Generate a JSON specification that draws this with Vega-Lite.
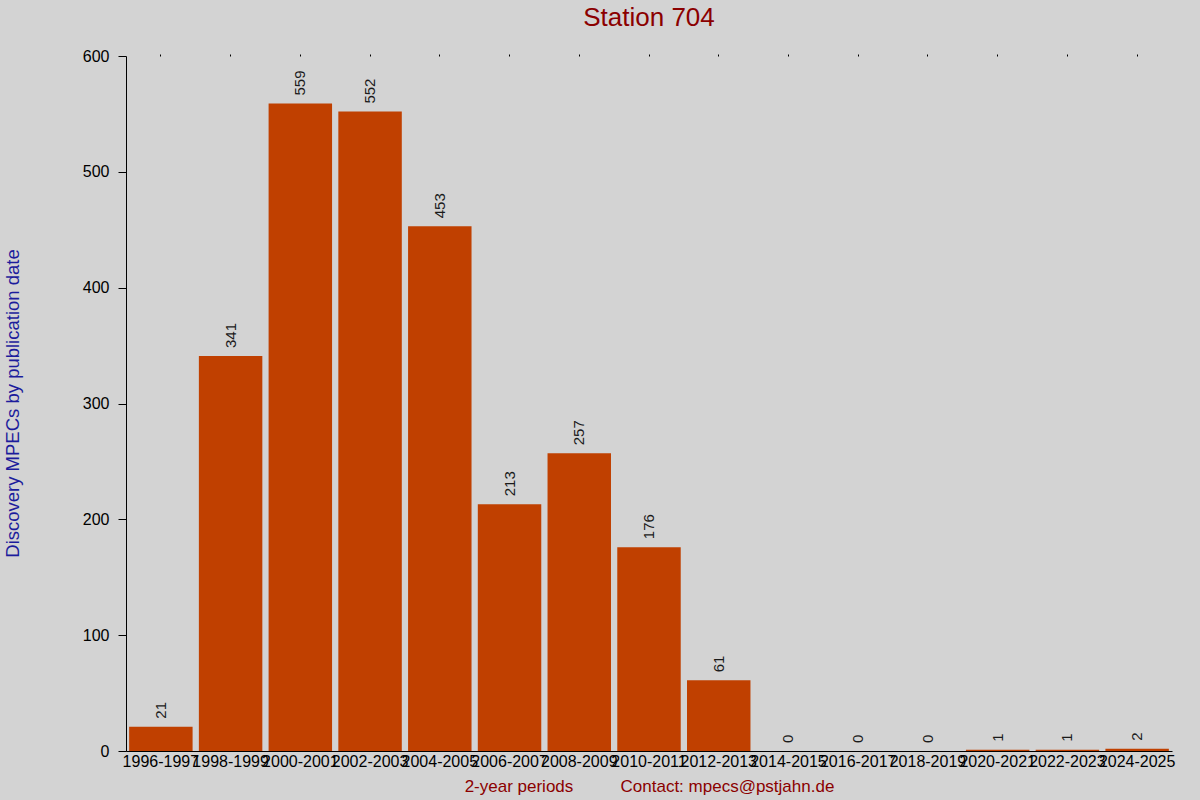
{
  "$schema": "https://vega.github.io/schema/vega-lite/v6.json",
  "autosize": "none",
  "width": 1046,
  "height": 695,
  "padding": {"left": 126, "top": 56, "right": 28, "bottom": 49},
  "background": "#d3d3d3",
  "title": {
    "text": "Station 704",
    "fontSize": 26,
    "fontWeight": "normal",
    "font": "Liberation Sans",
    "color": "#8b0000",
    "anchor": "middle",
    "baseline": "alphabetic",
    "offset": -4
  },
  "config": {
    "view": {"stroke": null},
    "font": "Liberation Sans",
    "axis": {
      "labelFont": "Liberation Sans",
      "titleFont": "Liberation Sans",
      "labelColor": "#000000",
      "domainColor": "#000000",
      "tickColor": "#000000",
      "grid": false
    }
  },
  "data": {
    "values": [
      {"period": "1996-1997", "count": 21},
      {"period": "1998-1999", "count": 341},
      {"period": "2000-2001", "count": 559},
      {"period": "2002-2003", "count": 552},
      {"period": "2004-2005", "count": 453},
      {"period": "2006-2007", "count": 213},
      {"period": "2008-2009", "count": 257},
      {"period": "2010-2011", "count": 176},
      {"period": "2012-2013", "count": 61},
      {"period": "2014-2015", "count": 0},
      {"period": "2016-2017", "count": 0},
      {"period": "2018-2019", "count": 0},
      {"period": "2020-2021", "count": 1},
      {"period": "2022-2023", "count": 1},
      {"period": "2024-2025", "count": 2}
    ]
  },
  "encoding": {
    "x": {
      "field": "period",
      "type": "nominal",
      "sort": null,
      "scale": {"paddingInner": 0.09, "paddingOuter": 0.045}
    },
    "y": {
      "field": "count",
      "type": "quantitative",
      "scale": {"domain": [0, 600], "nice": false}
    }
  },
  "layer": [
    {
      "mark": {"type": "bar", "color": "#c04000"},
      "encoding": {
        "x": {
          "field": "period",
          "type": "nominal",
          "sort": null,
          "axis": {
            "orient": "bottom",
            "title": "2-year periods\u00a0\u00a0\u00a0\u00a0\u00a0\u00a0\u00a0\u00a0\u00a0\u00a0Contact: mpecs@pstjahn.de",
            "titleFontSize": 17,
            "titleFontWeight": "normal",
            "titleColor": "#8b0000",
            "titleBaseline": "middle",
            "titleY": 35,
            "labelAngle": 0,
            "labelFontSize": 16,
            "labelPadding": 2,
            "ticks": false,
            "labelOverlap": false
          }
        },
        "y": {
          "field": "count",
          "type": "quantitative",
          "axis": {
            "values": [0, 100, 200, 300, 400, 500, 600],
            "title": "Discovery MPECs by publication date",
            "titleFontSize": 18.5,
            "titleFontWeight": "normal",
            "titleColor": "#1c1c9c",
            "titleAngle": -90,
            "titleAlign": "center",
            "titleBaseline": "middle",
            "titleX": -114,
            "titleY": 347,
            "labelFontSize": 16,
            "tickSize": 8,
            "labelPadding": 9
          }
        }
      }
    },
    {
      "mark": {
        "type": "text",
        "angle": 270,
        "align": "left",
        "baseline": "middle",
        "dx": 8,
        "fontSize": 15,
        "color": "#1a1a1a"
      },
      "encoding": {
        "x": {
          "field": "period",
          "type": "nominal",
          "sort": null,
          "axis": {
            "orient": "top",
            "title": null,
            "labels": false,
            "domain": false,
            "ticks": true,
            "tickSize": 2,
            "tickColor": "#000000"
          }
        },
        "text": {"field": "count", "type": "quantitative"}
      }
    }
  ],
  "resolve": {"axis": {"x": "independent"}}
}
